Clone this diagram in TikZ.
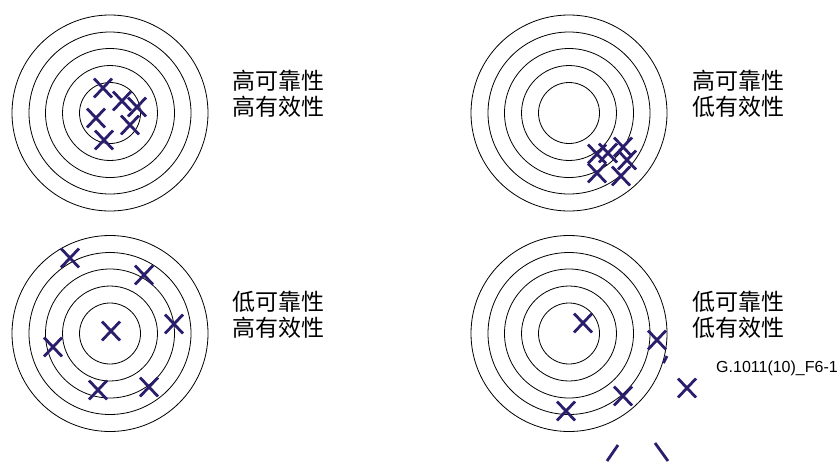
\documentclass[tikz,border=0pt]{standalone}
\usepackage{fontspec}
\setmainfont{Liberation Sans}
\newfontfamily\cjk{Noto Sans CJK SC}
\usetikzlibrary{positioning}
\definecolor{markblue}{RGB}{42,30,108}

\tikzset{
  ring/.style={draw=black, line width=0.8pt},
  hit/.style={draw=markblue, line width=2.8pt},
  verdict/.style={font=\cjk\fontsize{23}{26.5}\selectfont, align=left, anchor=west, inner sep=0pt},
  pics/xmark/.style={code={\draw[hit] (-9,-9.5) -- (9,9.5) (-9,9.5) -- (9,-9.5);}}
}

\begin{document}
\begin{tikzpicture}[x=1pt, y=-1pt]
    \useasboundingbox (0,0) rectangle (837,461);
    \coordinate (hh) at (110,113);
    \coordinate (hl) at (569,113);
    \coordinate (lh) at (110,333.5);
    \coordinate (ll) at (569,333.5);
    \foreach \t in {hh,hl,lh,ll}
        \foreach \r in {30.5,47.5,64.5,81,98}
            \draw[ring] (\t) circle (\r);

    % high reliability, high validity
    \foreach \x/\y in {103/88, 122/101, 137/107, 96/118, 130/125, 104/140}
        \pic at (\x,\y) {xmark};
    % high reliability, low validity
    \foreach \x/\y in {597/154, 608/153, 597/173, 623/147, 627/160, 621/176}
        \pic at (\x,\y) {xmark};
    % low reliability, high validity
    \foreach \x/\y in {70/258, 144/275, 174/324, 111/331, 53/347, 98/390, 149/387}
        \pic at (\x,\y) {xmark};
    % low reliability, low validity
    \foreach \x/\y in {583/323, 657/340, 687/388, 623/396, 566/411}
        \pic at (\x,\y) {xmark};
    \draw[hit] (667,356) -- (663.5,363);
    \draw[hit] (618,445) -- (607,461);
    \draw[hit] (655,443) -- (668,461);

    \node[verdict] (txthh) at (232,94) {高可靠性\\高有效性};
    \node[verdict] (txthl) at (692,94) {高可靠性\\低有效性};
    \node[verdict] (txtlh) at (232,315) {低可靠性\\高有效性};
    \node[verdict] (txtll) at (692,315) {低可靠性\\低有效性};
    \node[font=\fontsize{16}{19}\selectfont, anchor=west, inner sep=0pt] (figref) at (716,368) {G.1011(10)\_F6-1};
\end{tikzpicture}
\end{document}
